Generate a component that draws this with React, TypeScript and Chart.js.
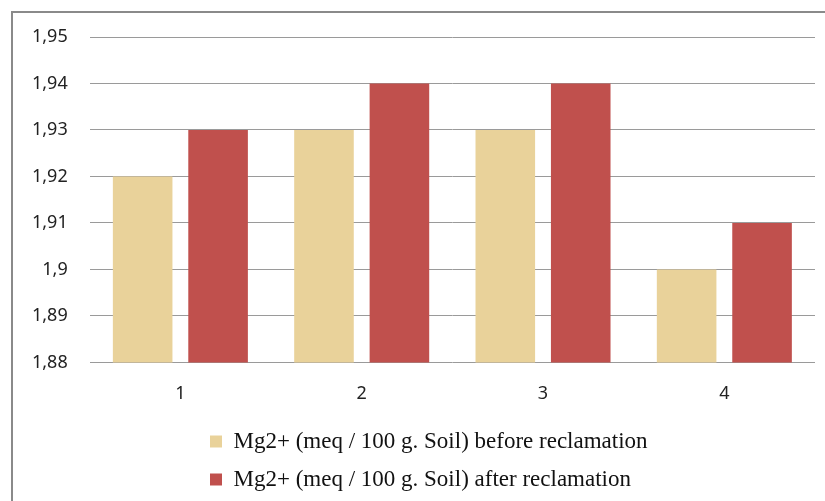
import React, { useEffect, useRef } from "react";
import { Chart, registerables } from "chart.js";

Chart.register(...registerables);

const categories = ["1", "2", "3", "4"];
const beforeValues = [1.92, 1.93, 1.93, 1.9];
const afterValues = [1.93, 1.94, 1.94, 1.91];
const seriesLabels = [
  "Mg2+ (meq / 100 g. Soil) before reclamation",
  "Mg2+ (meq / 100 g. Soil) after reclamation",
];
const yMin = 1.88;
const yMax = 1.95;
const yStep = 0.01;

function formatTick(v: number): string {
  const r = Math.round(v * 100) / 100;
  return String(r).replace(".", ",");
}

const legendShift = {
  id: "legendShift",
  afterLayout(chart: any) {
    if (chart.legend) {
      chart.legend.left = 195;
    }
  },
};

export default function App() {
  const ref = useRef<HTMLCanvasElement | null>(null);

  useEffect(() => {
    if (!ref.current) return;
    const chart = new Chart(ref.current, {
      type: "bar",
      data: {
        labels: categories,
        datasets: [
          {
            label: seriesLabels[0],
            data: beforeValues,
            backgroundColor: "#E9D29A",
            borderWidth: 0,
          },
          {
            label: seriesLabels[1],
            data: afterValues,
            backgroundColor: "#C0504D",
            borderWidth: 0,
          },
        ],
      },
      plugins: [legendShift],
      options: {
        animation: false,
        responsive: false,
        maintainAspectRatio: false,
        layout: { padding: { left: 10, right: 10, top: 37, bottom: 0 } },
        datasets: {
          bar: { categoryPercentage: 0.832, barPercentage: 0.79 },
        },
        scales: {
          x: {
            grid: { display: false },
            border: { display: false },
            ticks: {
              color: "#222",
              font: { family: "Noto Sans", size: 18 },
              padding: 13,
            },
            afterFit: (scale: any) => {
              scale.height = scale.height - 3;
            },
          },
          y: {
            min: yMin,
            max: yMax,
            grid: { color: "#9a9a9a", drawTicks: false, lineWidth: 1 },
            border: { display: false },
            ticks: {
              stepSize: yStep,
              color: "#222",
              font: { family: "Noto Sans", size: 18 },
              padding: 22,
              callback: (v: any) => formatTick(Number(v)),
            },
          },
        },
        plugins: {
          legend: {
            position: "bottom",
            align: "start",
            labels: {
              color: "#111",
              font: { family: "Liberation Serif", size: 23 },
              boxWidth: 12,
              boxHeight: 12,
              padding: 15,
            },
          },
          tooltip: { enabled: false },
        },
      },
    });
    return () => chart.destroy();
  }, []);

  return (
    <div
      style={{
        position: "fixed",
        left: 0,
        top: 0,
        width: 825,
        height: 501,
        overflow: "hidden",
        background: "#fff",
      }}
    >
      <canvas ref={ref} width={825} height={501} style={{ display: "block" }} />
      <div
        style={{
          position: "absolute",
          left: 11,
          top: 11,
          width: 840,
          height: 520,
          border: "2px solid #8a8a8a",
          pointerEvents: "none",
        }}
      />
    </div>
  );
}
